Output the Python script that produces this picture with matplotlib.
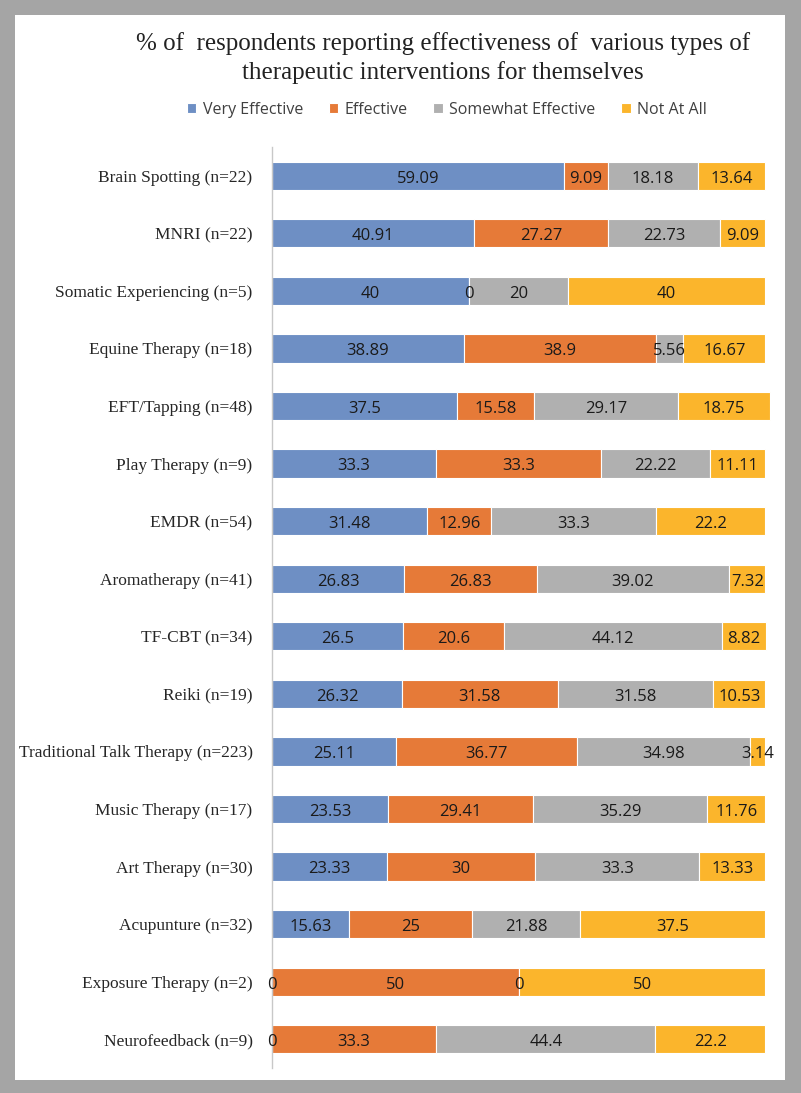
import matplotlib.pyplot as plt
from matplotlib.patches import Rectangle
import numpy as np

# categories top -> bottom
therapies = ['Brain Spotting (n=22)', 'MNRI (n=22)', 'Somatic Experiencing (n=5)',
             'Equine Therapy (n=18)', 'EFT/Tapping (n=48)', 'Play Therapy (n=9)',
             'EMDR (n=54)', 'Aromatherapy (n=41)', 'TF-CBT (n=34)', 'Reiki (n=19)',
             'Traditional Talk Therapy (n=223)', 'Music Therapy (n=17)',
             'Art Therapy (n=30)', 'Acupunture (n=32)', 'Exposure Therapy (n=2)',
             'Neurofeedback (n=9)']

very_effective = [59.09, 40.91, 40, 38.89, 37.5, 33.3, 31.48, 26.83, 26.5, 26.32,
                  25.11, 23.53, 23.33, 15.63, 0, 0]
effective = [9.09, 27.27, 0, 38.9, 15.58, 33.3, 12.96, 26.83, 20.6, 31.58,
             36.77, 29.41, 30, 25, 50, 33.3]
somewhat = [18.18, 22.73, 20, 5.56, 29.17, 22.22, 33.3, 39.02, 44.12, 31.58,
            34.98, 35.29, 33.3, 21.88, 0, 44.4]
not_at_all = [13.64, 9.09, 40, 16.67, 18.75, 11.11, 22.2, 7.32, 8.82, 10.53,
              3.14, 11.76, 13.33, 37.5, 50, 22.2]

series_names = ['Very Effective', 'Effective', 'Somewhat Effective', 'Not At All']
series = [very_effective, effective, somewhat, not_at_all]
colors = ['#6e8fc4', '#e67a38', '#b0b0b0', '#fbb52c']

W, H = 801, 1093
fig = plt.figure(figsize=(W / 100, H / 100), dpi=100, facecolor='#a5a5a5')
# white panel inside grey frame
fig.patches.append(Rectangle((15 / W, 13 / H), 770 / W, 1065 / H,
                             transform=fig.transFigure, facecolor='white',
                             edgecolor='none', zorder=-5))

ax = fig.add_axes([272 / W, 1 - 1068 / H, 518 / W, (1068 - 147) / H])
ax.set_facecolor('none')

y = np.arange(len(therapies))
left = np.zeros(len(therapies))
for name, vals, c in zip(series_names, series, colors):
    vals = np.array(vals, dtype=float)
    ax.barh(y, vals, left=left, height=0.49, color=c, edgecolor='white',
            linewidth=0.8, label=name)
    for yi, l, v in zip(y, left, vals):
        # small nudge down so the digits sit in the middle of the bar
        ax.text(l + v / 2, yi + 0.05, f'{v:g}', ha='center', va='center',
                fontsize=12, color='#1a1a1a', family='Open Sans')
    left += vals

ax.set_xlim(0, 105)
ax.set_ylim(len(therapies) - 0.5, -0.5)
ax.set_yticks(y)
ax.set_yticklabels(therapies, family='Liberation Serif', fontsize=12.5,
                   color='#262626')
ax.tick_params(axis='y', length=0, pad=14)
ax.set_xticks([])
for s in ['top', 'right', 'bottom']:
    ax.spines[s].set_visible(False)
ax.spines['left'].set_color('#c8c8c8')
ax.spines['left'].set_linewidth(1)

fig.text(443 / W, 1 - 58 / H,
         '% of  respondents reporting effectiveness of  various types of\n'
         'therapeutic interventions for themselves',
         ha='center', va='center', fontsize=18, family='Liberation Serif',
         color='#222222', linespacing=1.3)

fig.legend(*ax.get_legend_handles_labels(), loc='center',
           bbox_to_anchor=(447 / W, 1 - 110 / H), ncol=4, frameon=False,
           prop={'family': 'Open Sans', 'size': 11.5}, handlelength=0.6,
           handleheight=0.6, handletextpad=0.4, columnspacing=1.6,
           labelcolor='#404040')

fig.savefig('out.png', dpi=100, facecolor=fig.get_facecolor())
